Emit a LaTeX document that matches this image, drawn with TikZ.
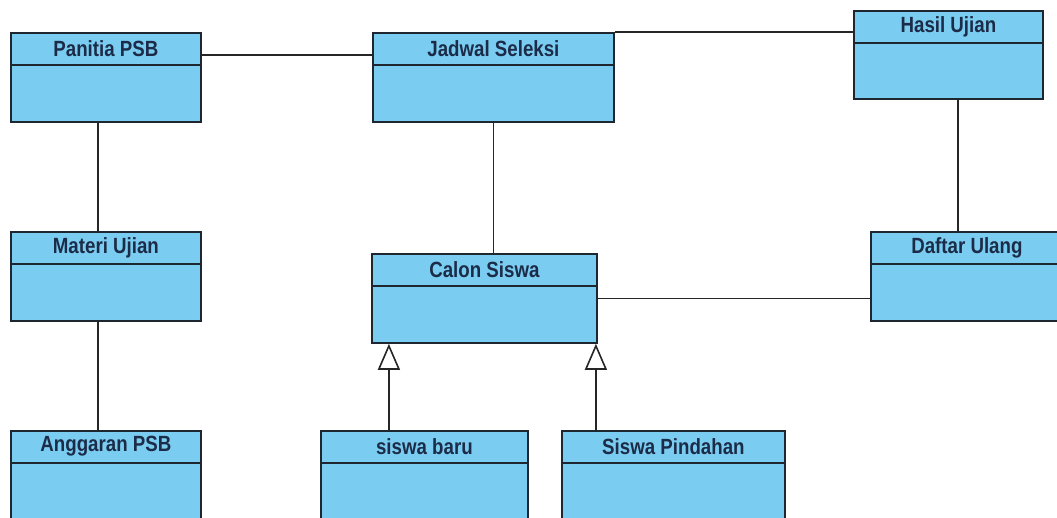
\documentclass[tikz,border=0pt]{standalone}
\usepackage{fontspec}
\setmainfont{Liberation Sans}[FakeStretch=0.85]
\usetikzlibrary{arrows.meta,calc}
\definecolor{clsfill}{HTML}{7ACDF1}
\definecolor{clstext}{HTML}{1C2C48}
\definecolor{clsline}{HTML}{1E2630}
\tikzset{
  cls/.style={draw=clsline, line width=1.8pt, fill=clsfill, rectangle, inner sep=0pt, anchor=north west},
  hdr/.style={draw=clsline, line width=1.8pt},
  title/.style={text=clstext, font=\bfseries\fontsize{22}{24}\selectfont, inner sep=0pt},
  conn/.style={draw=black!85, line width=1.8pt},
  gen/.style={conn, -{Triangle[open, width=22pt, length=26pt, line width=1.6pt, fill=white]}}
}
\newcommand\umlclass[6]{%
  \node[cls, minimum width=#4pt, minimum height=#5pt] (#1) at (#2,#3) {};
  \draw[hdr] ([yshift=-33pt]#1.north west) -- ([yshift=-33pt]#1.north east);
  \node[title] at ([yshift=-16.5pt]#1.north) {#6};
}
\begin{document}
\begin{tikzpicture}[x=1pt, y=-1pt]
\clip (0,0) rectangle (1057,517);
\fill[white] (0,0) rectangle (1057,517);
\umlclass{panitia}{10}{32}{190}{89}{Panitia PSB}
\umlclass{jadwal}{372}{32}{241}{89}{Jadwal Seleksi}
\umlclass{hasil}{853}{10}{189}{88}{Hasil Ujian}
\umlclass{materi}{10}{231}{190}{89}{Materi Ujian}
\umlclass{calon}{371}{253}{225}{89}{Calon Siswa}
\umlclass{daftar}{870}{231}{192}{89}{Daftar Ulang}
\umlclass{anggaran}{10}{430}{190}{92}{Anggaran PSB}
\umlclass{baru}{320}{430}{207}{92}{siswa baru}
\umlclass{pindahan}{561}{430}{223}{92}{Siswa Pindahan}
% associations
\draw[conn] ([yshift=22.5pt]panitia.east) -- ([yshift=22.5pt]panitia.east -| jadwal.west);
\draw[conn] (jadwal.north east) -- (jadwal.north east -| hasil.west);
\draw[conn] ([xshift=-8pt]panitia.south) -- ([xshift=-8pt]panitia.south |- materi.north);
\draw[conn] ([xshift=-8pt]materi.south) -- ([xshift=-8pt]materi.south |- anggaran.north);
\draw[conn] (jadwal.south) -- (jadwal.south |- calon.north);
\draw[conn] ([xshift=9.5pt]hasil.south) -- ([xshift=9.5pt]hasil.south |- daftar.north);
\draw[conn] (calon.east) -- (calon.east -| daftar.west);
% generalizations
\draw[gen] ([xshift=-35.5pt]baru.north) -- ([xshift=-35.5pt]baru.north |- calon.south);
\draw[gen] ([xshift=-77.5pt]pindahan.north) -- ([xshift=-77.5pt]pindahan.north |- calon.south);
\end{tikzpicture}
\end{document}
